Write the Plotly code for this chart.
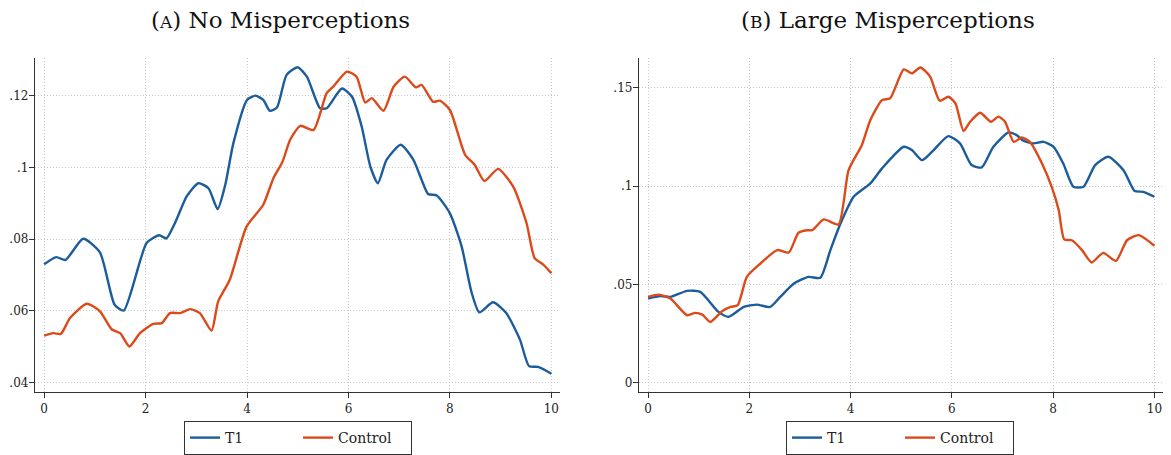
import plotly.graph_objects as go

# Panel A: No Misperceptions
a_t1_x = [0, 0.24, 0.42, 0.77, 1.1, 1.39, 1.57, 2.02, 2.27, 2.41, 2.58, 2.81, 3.04, 3.24, 3.42, 3.57, 3.73, 4.0, 4.17, 4.32, 4.45, 4.59,
          4.78, 5.0, 5.18, 5.44, 5.57, 5.87, 6.07, 6.26, 6.43, 6.58, 6.75, 7.03, 7.28, 7.44, 7.57, 7.74, 8.0, 8.23, 8.43, 8.58,
          8.85, 9.11, 9.38, 9.56, 9.74, 10.0]
a_t1_y = [.0730, .0750, .0742, .0801, .0763, .0617, .0601, .0789, .0811, .0802, .0845, .0919, .0956, .0942, .0884, .0951, .1067, .1188,
          .1200, .1188, .1158, .1167, .1258, .1279, .1253, .1165, .1165, .1220, .1197, .1114, .1003, .0956, .1021, .1063, .1021,
          .0966, .0926, .0922, .0872, .0780, .0650, .0596, .0624, .0594, .0520, .0446, .0444, .0425]
a_c_x = [0, 0.18, 0.33, 0.51, 0.84, 1.1, 1.33, 1.5, 1.68, 1.89, 2.15, 2.32, 2.48, 2.68, 2.88, 3.07, 3.3, 3.43, 3.66, 3.99, 4.32, 4.52,
         4.70, 4.85, 5.05, 5.31, 5.57, 5.70, 5.97, 6.16, 6.33, 6.46, 6.69, 6.89, 7.11, 7.33, 7.44, 7.67, 7.80, 8.0, 8.30, 8.49,
         8.68, 8.95, 9.25, 9.51, 9.67, 9.84, 10.0]
a_c_y = [.0531, .0538, .0536, .0580, .0620, .0599, .0549, .0538, .0501, .0538, .0564, .0566, .0594, .0594, .0605, .0594, .0545, .0626,
         .0687, .0835, .0896, .0970, .1016, .1077, .1116, .1104, .1207, .1225, .1267, .1253, .1181, .1193, .1158, .1225, .1253,
         .1223, .1230, .1183, .1186, .1160, .1035, .1007, .0962, .0996, .0946, .0845, .0747, .0729, .0705]

# Panel B: Large Misperceptions
b_t1_x = [0, 0.24, 0.44, 0.77, 1.03, 1.39, 1.59, 1.89, 2.15, 2.41, 2.61, 2.88, 3.17, 3.40, 3.60, 3.80, 4.06, 4.39, 4.62, 5.05, 5.21,
          5.41, 5.61, 5.93, 6.16, 6.39, 6.59, 6.82, 7.12, 7.28, 7.41, 7.61, 7.81, 8.01, 8.20, 8.40, 8.60, 8.83, 9.09, 9.39,
          9.61, 9.78, 10.0]
b_t1_y = [.0429, .0441, .0437, .0468, .0463, .0361, .0336, .0386, .0398, .0386, .0437, .0505, .0539, .0534, .0675, .0810, .0946, .1014,
          .1090, .1200, .1183, .1132, .1175, .1254, .1217, .1107, .1095, .1200, .1273, .1259, .1231, .1217, .1225, .1200, .1115,
          .0997, .0997, .1107, .1149, .1081, .0975, .0971, .0946]
b_c_x = [0, 0.21, 0.44, 0.77, 0.93, 1.07, 1.23, 1.46, 1.63, 1.77, 1.95, 2.22, 2.55, 2.78, 2.97, 3.14, 3.24, 3.47, 3.76, 3.96, 4.22,
         4.39, 4.62, 4.78, 5.05, 5.21, 5.38, 5.57, 5.76, 5.93, 6.07, 6.23, 6.36, 6.56, 6.77, 6.92, 7.05, 7.22, 7.38, 7.54, 7.78,
         7.97, 8.11, 8.22, 8.37, 8.57, 8.76, 8.99, 9.24, 9.46, 9.69, 10.0]
b_c_y = [.0437, .0449, .0429, .0344, .0356, .0347, .0310, .0364, .0386, .0395, .0539, .0607, .0675, .0663, .0763, .0776, .0776, .0831,
         .0805, .1081, .1208, .1336, .1437, .1446, .1593, .1573, .1603, .1556, .1434, .1454, .1420, .1280, .1327, .1373, .1327,
         .1353, .1327, .1225, .1247, .1225, .1115, .0997, .0878, .0729, .0725, .0675, .0612, .0661, .0620, .0725, .0751, .0697]

x_ticks = [0, 2, 4, 6, 8, 10]
a_y_ticks = [0.04, 0.06, 0.08, 0.10, 0.12]
a_y_labels = [".04", ".06", ".08", ".1", ".12"]
b_y_ticks = [0, 0.05, 0.10, 0.15]
b_y_labels = ["0", ".05", ".1", ".15"]
series_names = ["T1", "Control"]
titles = ["(<span style='font-size:17px'>A</span>) No Misperceptions",
          "(<span style='font-size:17px'>B</span>) Large Misperceptions"]

BLUE = "#1b5c9c"
RED = "#dc4a1a"
OFF = 8  # default page body margin
W, H = 1171 - OFF, 455 - OFF
FONT = "DejaVu Serif, serif"


def px_x(p):
    return (p - OFF) / W


def px_y(p):
    return 1 - (p - OFF) / H


fig = go.Figure()
line_style = dict(width=2.4, shape="spline", smoothing=0.6)

fig.add_trace(go.Scatter(x=a_t1_x, y=a_t1_y, mode="lines", name=series_names[0], line=dict(color=BLUE, **line_style),
                         xaxis="x", yaxis="y", legend="legend"))
fig.add_trace(go.Scatter(x=a_c_x, y=a_c_y, mode="lines", name=series_names[1], line=dict(color=RED, **line_style),
                         xaxis="x", yaxis="y", legend="legend"))
fig.add_trace(go.Scatter(x=b_t1_x, y=b_t1_y, mode="lines", name=series_names[0], line=dict(color=BLUE, **line_style),
                         xaxis="x2", yaxis="y2", legend="legend2"))
fig.add_trace(go.Scatter(x=b_c_x, y=b_c_y, mode="lines", name=series_names[1], line=dict(color=RED, **line_style),
                         xaxis="x2", yaxis="y2", legend="legend2"))

ydom = [px_y(392), px_y(58)]
common_axis = dict(showline=True, linecolor="#333333", linewidth=1.3, ticks="outside", ticklen=5, tickwidth=1.2,
                   tickcolor="#333333", showgrid=True, gridcolor="#c8c8c8", griddash="1px,2px", gridwidth=1,
                   zeroline=False, automargin=False, tickfont=dict(family=FONT, size=12, color="#222222"))

legend_common = dict(orientation="h", yanchor="middle", xanchor="center", bordercolor="#333333", borderwidth=1,
                     bgcolor="white", font=dict(family=FONT, size=14, color="#222222"), tracegroupgap=0,
                     entrywidth=68, entrywidthmode="pixels")

fig.update_layout(
    width=W, height=H,
    margin=dict(l=0, r=0, t=0, b=0, autoexpand=False),
    paper_bgcolor="white", plot_bgcolor="white",
    font=dict(family=FONT, color="#222222"),
    xaxis=dict(domain=[px_x(35), px_x(560)], range=[-0.18, 10.17], tickvals=x_ticks, anchor="y", **common_axis),
    yaxis=dict(domain=ydom, range=[0.0374, 0.1305], tickvals=a_y_ticks, ticktext=a_y_labels, anchor="x",
               ticklabelstandoff=-2, **common_axis),
    xaxis2=dict(domain=[px_x(639), px_x(1163)], range=[-0.18, 10.17], tickvals=x_ticks, anchor="y2", **common_axis),
    yaxis2=dict(domain=ydom, range=[-0.0046, 0.1651], tickvals=b_y_ticks, ticktext=b_y_labels, anchor="x2",
                ticklabelstandoff=-2, **common_axis),
    legend=dict(x=px_x(298), y=px_y(438), **legend_common),
    legend2=dict(x=px_x(900), y=px_y(438), **legend_common),
    showlegend=True,
)

fig.add_annotation(text=titles[0], xref="paper", yref="paper", x=px_x(280), y=px_y(20), showarrow=False,
                   xanchor="center", yanchor="middle", font=dict(family=FONT, size=23, color="#111111"))
fig.add_annotation(text=titles[1], xref="paper", yref="paper", x=px_x(888), y=px_y(20), showarrow=False,
                   xanchor="center", yanchor="middle", font=dict(family=FONT, size=23, color="#111111"))

fig.write_html("out.html")
